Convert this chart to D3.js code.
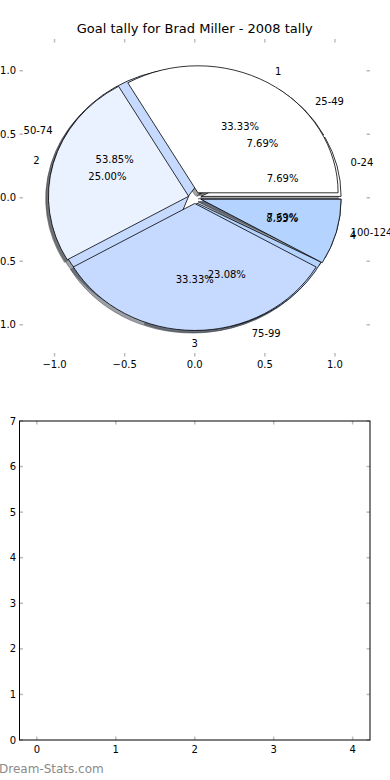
<!DOCTYPE html>
<html>
<head>
<meta charset="utf-8">
<script src="https://cdn.jsdelivr.net/npm/d3@7"></script>
<style>
  html, body { margin: 0; padding: 0; background: #fff; }
  svg { display: block; font-family: "DejaVu Sans", sans-serif; }
</style>
</head>
<body>
<svg id="chart" width="390" height="780"></svg>
<script>
// ---- data ----
const title = "Goal tally for Brad Miller - 2008 tally";
const rangeLabels = ["0-24", "25-49", "50-74", "75-99", "100-124"];
const rangeValues = [1, 1, 7, 3, 1];
const rangeExplode = [0.045, 0.045, 0.045, 0.045, 0.045];
const goalLabels = ["1", "2", "3", "4"];
const goalValues = [4, 3, 4, 1];
const goalExplode = [0.045, 0.045, 0.045, 0.045];
const sliceColors = ["#ffffff", "#ebf2ff", "#c6d9ff", "#b4d4ff", "#a3c6ff"];
const pieTicks = [-1.0, -0.5, 0.0, 0.5, 1.0];
const barXTicks = [0, 1, 2, 3, 4];
const barYTicks = [0, 1, 2, 3, 4, 5, 6, 7];
const watermark = "Dream-Stats.com";

const svg = d3.select("#chart");
svg.append("rect").attr("width", 390).attr("height", 780).attr("fill", "#fff");

const tickColor = "#bdbdbd";
const fmt = v => (v < 0 ? "\u2212" : "") + Math.abs(v).toFixed(1);

// ---- pie axes ----
const xP = d3.scaleLinear().domain([-1.25, 1.25]).range([19.5, 370]);
const yP = d3.scaleLinear().domain([-1.25, 1.25]).range([356.5, 39]);
const rx = xP(1) - xP(0), ry = yP(0) - yP(1);

const pieLayout = d3.pie().sort(null).value(d => d).startAngle(Math.PI / 2).endAngle(Math.PI / 2 - 2 * Math.PI);

function buildPie(values, labels, explode) {
  const total = d3.sum(values);
  return pieLayout(values).map((a, i) => {
    const t1 = Math.PI / 2 - a.startAngle;
    const t2 = Math.PI / 2 - a.endAngle;
    const mid = (t1 + t2) / 2;
    const cx = explode[i] * Math.cos(mid), cy = explode[i] * Math.sin(mid);
    return { i, t1, t2, mid, cx, cy, label: labels[i],
             pct: (values[i] / total * 100).toFixed(2) + "%", color: sliceColors[i % sliceColors.length] };
  });
}
function wedgePath(w, ox, oy) {
  const cx = w.cx + ox, cy = w.cy + oy;
  const p0 = [xP(cx), yP(cy)];
  const p1 = [xP(cx + Math.cos(w.t1)), yP(cy + Math.sin(w.t1))];
  const p2 = [xP(cx + Math.cos(w.t2)), yP(cy + Math.sin(w.t2))];
  const large = (w.t2 - w.t1) > Math.PI ? 1 : 0;
  return `M${p0[0]},${p0[1]}L${p1[0]},${p1[1]}A${rx},${ry} 0 ${large} 0 ${p2[0]},${p2[1]}Z`;
}
function shadowColor(c) {
  const r = d3.rgb(c);
  return `rgba(${Math.round(r.r * 0.3)},${Math.round(r.g * 0.3)},${Math.round(r.b * 0.3)},0.5)`;
}

const pieB = buildPie(rangeValues, rangeLabels, rangeExplode);
const pieA = buildPie(goalValues, goalLabels, goalExplode);

const gPie = svg.append("g");
// shadows (below every wedge)
[pieB, pieA].forEach(pie => {
  gPie.append("g").selectAll("path").data(pie).join("path")
    .attr("d", w => wedgePath(w, -0.02, -0.02))
    .attr("fill", w => shadowColor(w.color))
    .attr("stroke", w => shadowColor(w.color))
    .attr("stroke-width", 1);
});
// wedges
[pieB, pieA].forEach(pie => {
  gPie.append("g").selectAll("path").data(pie).join("path")
    .attr("d", w => wedgePath(w, 0, 0))
    .attr("fill", w => w.color)
    .attr("stroke", "#000")
    .attr("stroke-width", 0.8)
    .attr("stroke-linejoin", "round");
});
// labels
[pieB, pieA].forEach(pie => {
  const g = gPie.append("g").attr("font-size", 10).attr("fill", "#000");
  g.selectAll("text.lab").data(pie).join("text").attr("class", "lab")
    .attr("x", w => xP(w.cx + 1.1 * Math.cos(w.mid)))
    .attr("y", w => yP(w.cy + 1.1 * Math.sin(w.mid)))
    .attr("dy", "0.35em")
    .attr("text-anchor", w => Math.cos(w.mid) > 0 ? "start" : (Math.abs(Math.cos(w.mid)) < 1e-9 ? "middle" : "end"))
    .text(w => w.label);
  g.selectAll("text.pct").data(pie).join("text").attr("class", "pct")
    .attr("x", w => xP(w.cx + 0.6 * Math.cos(w.mid)))
    .attr("y", w => yP(w.cy + 0.6 * Math.sin(w.mid)))
    .attr("dy", "0.35em")
    .attr("text-anchor", "middle")
    .text(w => w.pct);
});

// pie ticks (no frame)
const gPT = svg.append("g").attr("stroke", tickColor).attr("stroke-width", 1.5);
pieTicks.forEach(t => {
  gPT.append("line").attr("x1", xP(t)).attr("x2", xP(t)).attr("y1", yP.range()[1]).attr("y2", yP.range()[1] + 3.5);
  gPT.append("line").attr("x1", xP(t)).attr("x2", xP(t)).attr("y1", yP.range()[0]).attr("y2", yP.range()[0] - 3.5);
  gPT.append("line").attr("y1", yP(t)).attr("y2", yP(t)).attr("x1", xP.range()[0]).attr("x2", xP.range()[0] + 3.5);
  gPT.append("line").attr("y1", yP(t)).attr("y2", yP(t)).attr("x1", xP.range()[1]).attr("x2", xP.range()[1] - 3.5);
});
const gPL = svg.append("g").attr("font-size", 10).attr("fill", "#000");
pieTicks.forEach(t => {
  gPL.append("text").attr("x", xP(t)).attr("y", yP.range()[0] + 11.8).attr("text-anchor", "middle").text(fmt(t));
  gPL.append("text").attr("x", xP.range()[0] - 3.5).attr("y", yP(t)).attr("dy", "0.35em").attr("text-anchor", "end").text(fmt(t));
});

svg.append("text").attr("x", xP(0)).attr("y", 33.3).attr("text-anchor", "middle")
  .attr("font-size", 13).attr("fill", "#000").text(title);

// ---- empty second axes ----
const xB = d3.scaleLinear().domain([-0.22, 4.22]).range([19.5, 370]);
const yB = d3.scaleLinear().domain([0, 7]).range([740, 421]);
const gB = svg.append("g");
const gBT = gB.append("g").attr("stroke", tickColor).attr("stroke-width", 1.5);
barXTicks.forEach(t => {
  gBT.append("line").attr("x1", xB(t)).attr("x2", xB(t)).attr("y1", yB.range()[1]).attr("y2", yB.range()[1] + 3.5);
  gBT.append("line").attr("x1", xB(t)).attr("x2", xB(t)).attr("y1", yB.range()[0]).attr("y2", yB.range()[0] - 3.5);
});
barYTicks.forEach(t => {
  gBT.append("line").attr("y1", yB(t)).attr("y2", yB(t)).attr("x1", xB.range()[0]).attr("x2", xB.range()[0] + 3.5);
  gBT.append("line").attr("y1", yB(t)).attr("y2", yB(t)).attr("x1", xB.range()[1]).attr("x2", xB.range()[1] - 3.5);
});
gB.append("rect").attr("x", xB.range()[0]).attr("y", yB.range()[1])
  .attr("width", xB.range()[1] - xB.range()[0]).attr("height", yB.range()[0] - yB.range()[1])
  .attr("fill", "none").attr("stroke", "#000").attr("stroke-width", 1);
const gBL = gB.append("g").attr("font-size", 10).attr("fill", "#000");
barXTicks.forEach(t => {
  gBL.append("text").attr("x", xB(t)).attr("y", yB.range()[0] + 12.5).attr("text-anchor", "middle").text(t);
});
barYTicks.forEach(t => {
  gBL.append("text").attr("x", xB.range()[0] - 3.5).attr("y", yB(t)).attr("dy", "0.35em").attr("text-anchor", "end").text(t);
});

svg.append("text").attr("x", -1).attr("y", 773).attr("font-size", 12).attr("fill", "#8a8a8a").text(watermark);
</script>
</body>
</html>
